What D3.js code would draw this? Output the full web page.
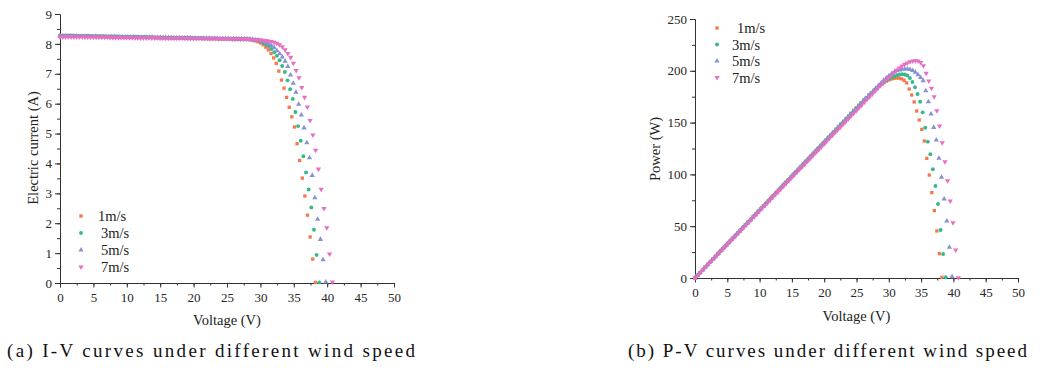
<!DOCTYPE html>
<html>
<head>
<meta charset="utf-8">
<script src="https://cdn.jsdelivr.net/npm/d3@7"></script>
<style>
  body { margin: 0; background: #fff; }
  .axis path, .axis line { stroke: #333; stroke-width: 1; }
</style>
</head>
<body>
<svg id="chart" width="1045" height="372"></svg>
<script>
// wind speeds (legend)
const speeds = ['1m/s', '3m/s', '5m/s', '7m/s'];

// voltage samples of each curve (V)
const voltage1 = [0,0.39,0.78,1.17,1.56,1.95,2.34,2.73,3.12,3.51,3.9,4.29,4.68,5.07,5.46,5.85,6.24,6.63,7.02,7.41,
  7.8,8.19,8.58,8.97,9.36,9.75,10.14,10.53,10.92,11.31,11.7,12.09,12.48,12.87,13.26,13.65,14.04,14.43,14.82,15.21,
  15.6,15.99,16.38,16.77,17.16,17.55,17.94,18.33,18.72,19.11,19.5,19.89,20.28,20.67,21.06,21.45,21.84,22.23,22.62,23.01,
  23.4,23.79,24.18,24.57,24.96,25.35,25.74,26.13,26.52,26.91,27.3,27.69,28.08,28.47,28.86,29.25,29.64,30.03,30.42,30.81,
  31.2,31.59,31.98,32.37,32.76,33.15,33.54,33.93,34.32,34.71,35.1,35.49,35.88,36.27,36.66,37.05,37.44,37.83,38.22];
const voltage3 = [0,0.4,0.79,1.19,1.58,1.98,2.38,2.77,3.17,3.56,3.96,4.36,4.75,5.15,5.54,5.94,6.34,6.73,7.13,7.52,
  7.92,8.32,8.71,9.11,9.5,9.9,10.3,10.69,11.09,11.48,11.88,12.28,12.67,13.07,13.46,13.86,14.26,14.65,15.05,15.44,
  15.84,16.24,16.63,17.03,17.42,17.82,18.22,18.61,19.01,19.4,19.8,20.2,20.59,20.99,21.38,21.78,22.18,22.57,22.97,23.36,
  23.76,24.16,24.55,24.95,25.34,25.74,26.14,26.53,26.93,27.32,27.72,28.12,28.51,28.91,29.3,29.7,30.1,30.49,30.89,31.28,
  31.68,32.08,32.47,32.87,33.26,33.66,34.06,34.45,34.85,35.24,35.64,36.04,36.43,36.83,37.22,37.62,38.02,38.41,38.81];
const voltage5 = [0,0.41,0.81,1.22,1.62,2.03,2.44,2.84,3.25,3.65,4.06,4.47,4.87,5.28,5.68,6.09,6.5,6.9,7.31,7.71,
  8.12,8.53,8.93,9.34,9.74,10.15,10.56,10.96,11.37,11.77,12.18,12.59,12.99,13.4,13.8,14.21,14.62,15.02,15.43,15.83,
  16.24,16.65,17.05,17.46,17.86,18.27,18.68,19.08,19.49,19.89,20.3,20.71,21.11,21.52,21.92,22.33,22.74,23.14,23.55,23.95,
  24.36,24.77,25.17,25.58,25.98,26.39,26.8,27.2,27.61,28.01,28.42,28.83,29.23,29.64,30.04,30.45,30.86,31.26,31.67,32.07,
  32.48,32.89,33.29,33.7,34.1,34.51,34.92,35.32,35.73,36.13,36.54,36.95,37.35,37.76,38.16,38.57,38.98,39.38,39.79];
const voltage7 = [0,0.42,0.83,1.25,1.66,2.08,2.5,2.91,3.33,3.74,4.16,4.58,4.99,5.41,5.82,6.24,6.66,7.07,7.49,7.9,
  8.32,8.74,9.15,9.57,9.98,10.4,10.82,11.23,11.65,12.06,12.48,12.9,13.31,13.73,14.14,14.56,14.98,15.39,15.81,16.22,
  16.64,17.06,17.47,17.89,18.3,18.72,19.14,19.55,19.97,20.38,20.8,21.22,21.63,22.05,22.46,22.88,23.3,23.71,24.13,24.54,
  24.96,25.38,25.79,26.21,26.62,27.04,27.46,27.87,28.29,28.7,29.12,29.54,29.95,30.37,30.78,31.2,31.62,32.03,32.45,32.86,
  33.28,33.7,34.11,34.53,34.94,35.36,35.78,36.19,36.61,37.02,37.44,37.86,38.27,38.69,39.1,39.52,39.94,40.35,40.77];

// electric current (A) - panel (a)
const current1 = [8.28,8.28,8.28,8.28,8.28,8.28, 8.27,8.27,8.27,8.27,8.27,8.27, 8.26,8.26,8.26,8.26,8.26,
  8.25,8.25,8.25,8.25,8.25,8.25, 8.24,8.24,8.24,8.24,8.24, 8.23,8.23,8.23,8.23,8.23,8.23, 8.22,8.22,8.22,8.22,8.22,
  8.21,8.21,8.21,8.21,8.21,8.21, 8.2,8.2,8.2,8.2,8.2, 8.19,8.19,8.19,8.19,8.19,8.19, 8.18,8.18,8.18,8.18,8.18,
  8.17,8.17,8.17,8.17,8.17,8.17, 8.16,8.16,8.16,8.16,8.16,
  8.15,8.14,8.12,8.1,8.07,8.03,7.97,7.89,7.8,7.68,7.53,7.35,7.09,6.79,6.52,6.21,5.88,5.56,5.22,4.66,4.1,3.51,2.91,2.27,1.54,0.8,0.02];
const current3 = [8.27,8.27,8.27,8.27,8.27,8.27, 8.26,8.26,8.26,8.26,8.26,8.26, 8.25,8.25,8.25,8.25,8.25,8.25,
  8.24,8.24,8.24,8.24,8.24,8.24, 8.23,8.23,8.23,8.23,8.23,8.23, 8.22,8.22,8.22,8.22,8.22,8.22, 8.21,8.21,8.21,8.21,8.21,8.21,
  8.2,8.2,8.2,8.2,8.2,8.2, 8.19,8.19,8.19,8.19,8.19,8.19, 8.18,8.18,8.18,8.18,8.18,8.18, 8.17,8.17,8.17,8.17,8.17,8.17,
  8.16,8.16,8.16,8.16,8.16,8.16,
  8.15,8.14,8.13,8.11,8.08,8.04,7.99,7.92,7.83,7.72,7.6,7.45,7.26,7.06,6.78,6.48,6.16,5.72,5.25,4.76,4.24,3.7,3.13,2.53,1.78,0.94,0.02];
const current5 = [8.26,8.26,8.26,8.26,8.26,8.26,8.26, 8.25,8.25,8.25,8.25,8.25,8.25,8.25, 8.24,8.24,8.24,8.24,8.24,8.24,8.24,
  8.23,8.23,8.23,8.23,8.23,8.23,8.23, 8.22,8.22,8.22,8.22,8.22,8.22,8.22, 8.21,8.21,8.21,8.21,8.21,8.21,8.21,
  8.2,8.2,8.2,8.2,8.2,8.2,8.2, 8.19,8.19,8.19,8.19,8.19,8.19,8.19, 8.18,8.18,8.18,8.18,8.18,8.18,8.18,
  8.17,8.17,8.17,8.17,8.17,8.17,8.17, 8.16,
  8.15,8.14,8.13,8.11,8.08,8.05,8.0,7.94,7.87,7.77,7.67,7.56,7.42,7.24,6.96,6.68,6.38,5.98,5.62,5.19,4.69,4.19,3.6,2.85,2.13,1.46,0.78,0.03];
const current7 = [8.23,8.23,8.23,8.23,8.23,8.23,8.23,8.23,8.23, 8.22,8.22,8.22,8.22,8.22,8.22,8.22,8.22,8.22,
  8.21,8.21,8.21,8.21,8.21,8.21,8.21,8.21,8.21, 8.2,8.2,8.2,8.2,8.2,8.2,8.2,8.2,8.2, 8.19,8.19,8.19,8.19,8.19,8.19,8.19,8.19,8.19,
  8.18,8.18,8.18,8.18,8.18,8.18,8.18,8.18,8.18, 8.17,8.17,8.17,8.17,8.17,8.17,8.17,8.17, 8.16,8.16,8.16,8.16,8.16,8.16,8.16,
  8.15,8.15,8.14,8.13,8.12,8.11,8.1,8.08,8.05,8.02,7.97,7.9,7.8,7.68,7.55,7.35,7.11,6.87,6.54,6.21,5.89,5.44,4.95,4.44,3.81,3.14,2.49,1.85,0.97,0.03];

// power (W) - panel (b)
const power1 = [0,2.6,5.1,7.7,10.3,12.8,15.4,18,20.5,23.1,25.7,28.2,30.8,33.4,35.9,38.5,41.1,43.6,46.2,48.8,
  51.3,53.9,56.5,59,61.6,64.2,66.7,69.3,71.8,74.4,77,79.5,82.1,84.7,87.2,89.8,92.4,94.9,97.5,100.1,
  102.6,105.2,107.8,110.3,112.9,115.5,118,120.6,123.2,125.7,128.3,130.9,133.4,136,138.6,141.1,143.7,146.3,148.8,151.4,
  154,156.5,159.1,161.7,164.2,166.8,169.3,171.8,174.2,176.6,178.9,181.1,183.2,185.2,187,188.6,190,191.2,192.1,192.7,
  193,192.9,192.2,190.8,188.3,182.4,176.6,169.9,161.2,152.5,143.5,132.2,115.5,99.4,82.4,65,45.4,23.5,0.7];
const power3 = [0,2.6,5.2,7.8,10.4,13,15.6,18.2,20.8,23.4,26,28.6,31.2,33.8,36.4,39,41.6,44.2,46.8,49.4,
  52,54.6,57.2,59.8,62.4,65,67.5,70.1,72.7,75.3,77.9,80.5,83.1,85.7,88.3,90.9,93.5,96.1,98.7,101.3,
  103.9,106.5,109.1,111.7,114.3,116.9,119.5,122.1,124.7,127.3,129.9,132.5,135.1,137.7,140.3,142.9,145.5,148.1,150.7,153.3,
  155.9,158.5,161.1,163.7,166.3,168.9,171.4,173.9,176.4,178.8,181.1,183.3,185.4,187.4,189.3,191,192.5,193.8,194.9,195.8,
  196.4,196.7,196.5,195.5,193,189.2,184.1,177.6,170.2,159.9,145.1,131.6,119.4,104.9,88.8,71.4,46.3,23.2,0.7];
const power5 = [0,2.7,5.3,8,10.6,13.3,15.9,18.6,21.2,23.9,26.6,29.2,31.9,34.5,37.2,39.8,42.5,45.1,47.8,50.4,
  53.1,55.8,58.4,61.1,63.7,66.4,69,71.7,74.3,77,79.7,82.3,85,87.6,90.3,92.9,95.6,98.2,100.9,103.5,
  106.2,108.9,111.5,114.2,116.8,119.5,122.1,124.8,127.4,130.1,132.8,135.4,138.1,140.7,143.4,146,148.7,151.3,154,156.6,
  159.3,162,164.6,167.3,169.9,172.6,175.2,177.9,180.5,183.1,185.8,188.4,190.9,193.2,195.3,197.2,198.8,200,200.9,201.5,
  201.8,201.7,201.2,200.2,198.6,196.3,193.5,190.5,180.8,170.2,158.3,145.4,133.2,115.5,97.2,76.3,55,29.6,1.3];
const power7 = [0,2.7,5.4,8.1,10.8,13.5,16.1,18.8,21.5,24.2,26.9,29.6,32.3,35,37.7,40.4,43.1,45.8,48.4,51.1,
  53.8,56.5,59.2,61.9,64.6,67.3,70,72.7,75.4,78.1,80.7,83.4,86.1,88.8,91.5,94.2,96.9,99.6,102.3,105,
  107.7,110.4,113,115.7,118.4,121.1,123.8,126.5,129.2,131.9,134.6,137.3,140,142.6,145.3,148,150.7,153.4,156.1,158.8,
  161.5,164.2,166.9,169.6,172.3,174.9,177.6,180.3,183,185.6,188.2,190.8,193.3,195.8,198.2,200.5,202.6,204.5,206.2,207.6,
  208.7,209.4,209.7,209.4,208,204.8,197.6,190.2,183.1,175,161.5,146.7,130.6,112.3,93.9,74.3,53.4,27,0.3];

const voltages = [voltage1, voltage3, voltage5, voltage7];
const currents = [current1, current3, current5, current7];
const powers = [power1, power3, power5, power7];

const colors = ['#f47a4c', '#35b98c', '#8692d3', '#e86ec3'];
const shapes = [d3.symbolSquare, d3.symbolCircle, d3.symbolTriangle, d3.symbolTriangle];
const rotations = [0, 0, 0, 180];
const sizes = [11, 12, 12, 12];

const serif = '"Liberation Serif", Tinos, "Times New Roman", serif';

const svg = d3.select('#chart');

function styleAxis(sel) {
  sel.attr('font-family', null)
    .selectAll('text')
    .style('font-family', serif)
    .style('font-size', '13px')
    .style('fill', '#262626');
}

function drawPanel(cfg) {
  const x = d3.scaleLinear().domain([0, 50]).range([cfg.left, cfg.right]);
  const y = d3.scaleLinear().domain([0, cfg.yMax]).range([cfg.bottom, cfg.top]);
  const g = svg.append('g');

  // minor ticks
  g.append('g').attr('class', 'axis')
    .attr('transform', `translate(0,${cfg.bottom})`)
    .call(d3.axisBottom(x).tickValues(d3.range(0, 50.01, 2.5)).tickSize(2.5).tickSizeOuter(0).tickFormat(''));
  g.append('g').attr('class', 'axis')
    .attr('transform', `translate(${cfg.left},0)`)
    .call(d3.axisLeft(y).tickValues(d3.range(0, cfg.yMax + 0.001, cfg.yMinor)).tickSize(3).tickSizeOuter(0).tickFormat(''));

  // major ticks
  g.append('g').attr('class', 'axis')
    .attr('transform', `translate(0,${cfg.bottom})`)
    .call(d3.axisBottom(x).tickValues(d3.range(0, 50.01, 5)).tickSize(4.5).tickPadding(5).tickSizeOuter(0))
    .call(styleAxis);
  g.append('g').attr('class', 'axis')
    .attr('transform', `translate(${cfg.left},0)`)
    .call(d3.axisLeft(y).tickValues(d3.range(0, cfg.yMax + 0.001, cfg.yMajor)).tickSize(5).tickPadding(3).tickSizeOuter(0))
    .call(styleAxis);

  // axis titles
  g.append('text')
    .attr('x', (cfg.left + cfg.right) / 2)
    .attr('y', cfg.xTitleY)
    .attr('text-anchor', 'middle')
    .style('font-family', serif)
    .style('font-size', '14.5px')
    .style('fill', '#222')
    .text('Voltage (V)');
  g.append('text')
    .attr('transform', `translate(${cfg.yTitleX},${cfg.yTitleCy}) rotate(-90)`)
    .attr('text-anchor', 'middle')
    .style('font-family', serif)
    .style('font-size', '14.5px')
    .style('fill', '#222')
    .text(cfg.yTitle);

  // markers
  cfg.values.forEach((vals, s) => {
    const pts = d3.zip(voltages[s], vals);
    const sym = d3.symbol().type(shapes[s]).size(sizes[s]);
    g.append('g')
      .selectAll('path')
      .data(pts)
      .join('path')
      .attr('d', sym)
      .attr('transform', d => `translate(${x(d[0])},${y(d[1])}) rotate(${rotations[s]})`)
      .attr('fill', colors[s]);
  });

  // legend
  speeds.forEach((label, s) => {
    const ly = cfg.legendY[s];
    g.append('path')
      .attr('d', d3.symbol().type(shapes[s]).size(sizes[s]))
      .attr('transform', `translate(${cfg.legendX},${ly}) rotate(${rotations[s]})`)
      .attr('fill', colors[s]);
    g.append('text')
      .attr('x', cfg.legendTextX[s])
      .attr('y', ly + 5)
      .style('font-family', serif)
      .style('font-size', '14.5px')
      .style('fill', '#222')
      .text(label);
  });

  // caption
  svg.append('text')
    .attr('x', cfg.captionX)
    .attr('y', 357)
    .attr('textLength', cfg.captionW)
    .attr('lengthAdjust', 'spacing')
    .style('font-family', serif)
    .style('font-size', '19px')
    .style('fill', '#111')
    .text(cfg.caption);
}

drawPanel({
  left: 60, right: 394, top: 14, bottom: 283,
  yMax: 9, yMajor: 1, yMinor: 0.5,
  values: currents,
  yTitle: 'Electric current (A)', yTitleX: 38, yTitleCy: 148,
  xTitleY: 325,
  legendX: 81, legendY: [216, 233, 250, 267], legendTextX: [98, 101, 101, 101],
  caption: '(a) I-V curves under different wind speed', captionX: 7, captionW: 408
});

drawPanel({
  left: 695, right: 1018, top: 19, bottom: 278,
  yMax: 250, yMajor: 50, yMinor: 25,
  values: powers,
  yTitle: 'Power (W)', yTitleX: 660, yTitleCy: 149,
  xTitleY: 321,
  legendX: 717, legendY: [28, 44.5, 61, 77.5], legendTextX: [737, 732, 732, 732],
  caption: '(b) P-V curves under different wind speed', captionX: 628, captionW: 399
});
</script>
</body>
</html>
